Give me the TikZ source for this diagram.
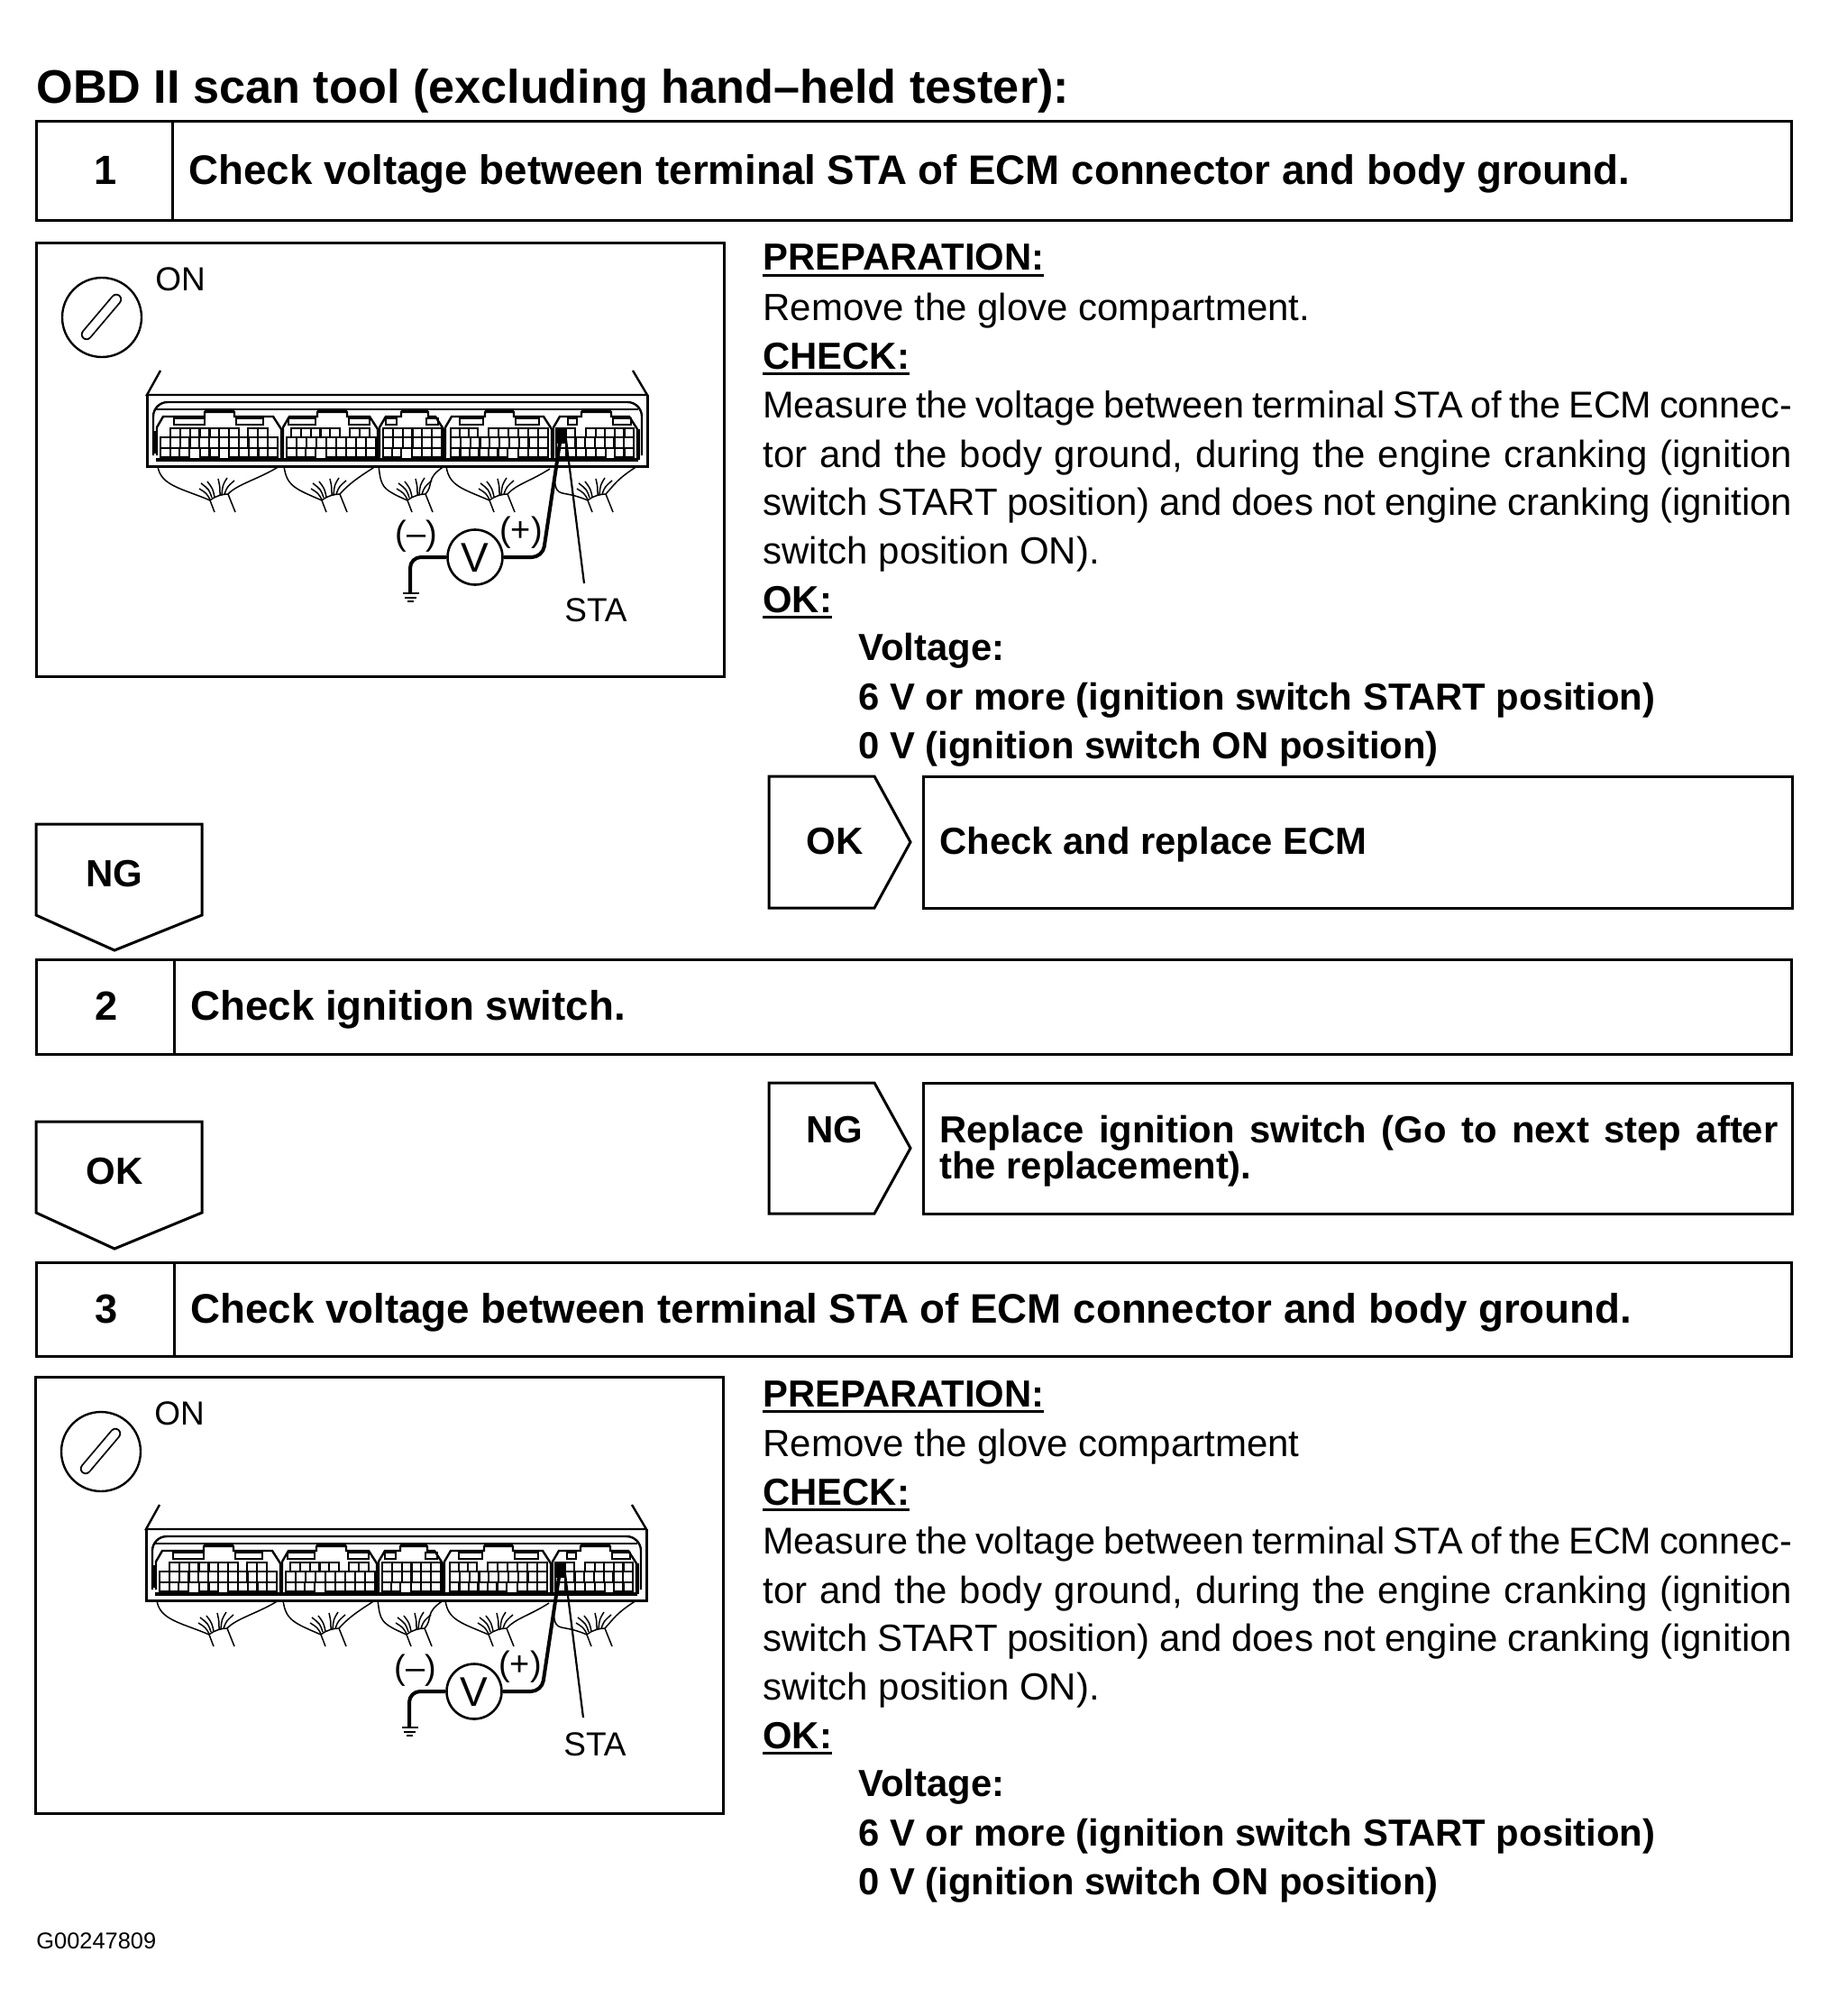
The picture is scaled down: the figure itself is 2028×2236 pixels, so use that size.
\documentclass[tikz,border=0pt]{standalone}
\usepackage{fontspec}
\setmainfont{Liberation Sans}
\newcommand{\fsz}[1]{\fontsize{#1pt}{#1pt}\selectfont}
\newcommand{\ulbar}[1]{{\setbox0\hbox{#1}\rlap{\rule[-3.4pt]{\wd0}{1.4pt}}\box0}}
\tikzset{
  frame/.style={draw=black,line width=1.5pt,fill=none},
  thin line/.style={draw=black,line width=.75pt},
  housing/.style={draw=black,line width=1.2pt},
  wirethick/.style={draw=black,line width=2pt,rounded corners=6pt},
  body/.style={font=\fsz{21},inner sep=0pt,anchor=west,text height=15pt,text depth=0pt},
  strong/.style={font=\fsz{20.9}\bfseries,inner sep=0pt,anchor=west,text height=15pt,text depth=0pt},
  steptitle/.style={font=\fsz{22.85}\bfseries,inner sep=0pt,anchor=west,text height=16pt,text depth=0pt},
  stepnum/.style={font=\fsz{22.6}\bfseries,inner sep=0pt,anchor=center,text height=16pt,text depth=0pt},
  mark label/.style={font=\fsz{21}\bfseries,inner sep=0pt,anchor=center,text height=15pt,text depth=0pt},
  small/.style={font=\fsz{18.5},inner sep=0pt,anchor=center,text height=13.5pt,text depth=0pt},
}
\newcommand{\stepbar}[8]{% name, x0,y0,xdiv,x1,y1, num, title
  \draw[frame] (#2,#3) rectangle (#5,#6);
  \draw[frame] (#4,#3) -- (#4,#6);
  \node[stepnum] (#1num) at ({(#2+#4)/2+2},{(#3+#6)/2-1}) {#7};
  \node[steptitle] (#1title) at (#4+18,{(#3+#6)/2-1}) {#8};
}
\newcommand{\sidemark}[5]{% name, ytop, ybot, label y, label
  \draw[frame] (853,#2) -- (970,#2) -- (1010,{(#2+#3)/2}) -- (970,#3) -- (853,#3) -- cycle;
  \draw[frame] (1024,#2) rectangle (1988,#3);
  \node[mark label] (#1) at (926,#4) {#5};
}
\newcommand{\downmark}[5]{% name, ytop, yside, ytip, label
  \draw[frame] (40,#2) -- (224,#2) -- (224,#3) -- (127,#4) -- (40,#3) -- cycle;
  \node[mark label] (#1) at (127,{(#2+#3)/2+4}) {#5};
}
\newcommand{\proc}[2]{%
  \node[strong] (#1prep) at (846,#2+0) {\ulbar{PREPARATION:}};
  \node[strong] (#1chk) at (846,#2+109) {\ulbar{CHECK:}};
  \node[body] (#1m1) at (846,#2+163) {\fsz{20.7}\makebox[571pt][s]{Measure the voltage between terminal STA of the ECM connec-}};
  \node[body] (#1m2) at (846,#2+218) {\makebox[571pt][s]{tor and the body ground, during the engine cranking (ignition}};
  \node[body] (#1m3) at (846,#2+271) {\makebox[571pt][s]{switch START position) and does not engine cranking (ignition}};
  \node[body] (#1m4) at (846,#2+325) {switch position ON).};
  \node[strong] (#1ok) at (846,#2+379) {\ulbar{OK:}};
  \node[strong] (#1v1) at (952,#2+432) {Voltage:};
  \node[strong] (#1v2) at (952,#2+487) {6 V or more (ignition switch START position)};
  \node[strong] (#1v3) at (952,#2+541) {0 V (ignition switch ON position)};
}
\newcommand{\ecmillus}[1]{%
  % ignition key
  \draw[line width=1.2pt] (113,352) circle (44);
  \draw[line width=6.2pt,line cap=round,black] (96,371) -- (129,332);
  \draw[line width=4.4pt,line cap=round,white] (96,371) -- (129,332);
  \node[small] (#1on) at (200,309) {ON};
  % case
  \draw[housing] (178,411) -- (163,438) -- (718,438) -- (702,411);
  \draw[draw=black,line width=1.5pt] (163,438) -- (163,517) -- (718,517) -- (718,438);
  \draw[housing,rounded corners=8pt] (170,505) -- (170,446) -- (712,446) -- (712,505);
  \draw[housing] (173,454) -- (708,454);
  \draw[draw=black,line width=1.6pt] (173,510) -- (708,510);
  % block outlines
  \foreach \a/\b/\c/\d in {173/227/260/313, 313/352/385/420, 420/445/475/493, 493/538/570/613, 613/645/678/708}{
    \draw[housing] (\a+1,505) -- (\a+1,474) -- (\a+8,462) -- (\b,462) -- (\b,457) -- (\c,457) -- (\c,462) -- (\d-10,462) -- (\d-1,476) -- (\d-1,505);
    \fill[black] (\b,454) rectangle (\c,458);
    \draw[draw=black,line width=2.4pt] (\d,476) -- (\d,510);
  }
  \draw[draw=black,line width=2.4pt] (173,478) -- (173,503);
  % latch windows
  \foreach \a/\b in {193/227, 262/292, 320/350, 387/410, 428/440, 473/486, 510/536, 572/598, 630/640, 680/700}{
    \draw[draw=black,line width=1pt] (\a,464) rectangle (\b,471);
  }
  % terminal cavities
  \foreach \a/\b/\p/\q/\n in {
    189/265/475/485/7, 275/297/475/485/2, 178/308/485/497/12, 178/210/497/507/3, 222/243/497/507/2, 254/308/497/507/5,
    323/377/475/485/5, 388/410/475/485/2, 318/417/485/497/9, 318/350/497/507/3, 362/417/497/507/5,
    425/490/475/485/6, 425/490/485/497/6, 425/445/497/507/2, 457/490/497/507/3,
    500/530/475/485/3, 542/608/475/485/6, 500/608/485/497/10, 500/563/497/507/6, 575/608/497/507/3,
    617/638/475/485/2, 650/703/475/485/5, 617/703/485/497/8, 617/672/497/507/5, 682/703/497/507/2}{
    \draw[draw=black,line width=1.1pt] (\a,\p) rectangle (\b,\q);
    \foreach \k in {1,...,\n}{
      \draw[draw=black,line width=1.1pt] ({\a+(\b-\a)*\k/\n},\p) -- ({\a+(\b-\a)*\k/\n},\q);
    }
  }
  % harness bundles
  \foreach \xl/\yl/\nl/\xr/\yr/\nr in {175/517/233/310/517/253, 315/517/357/417/517/377, 420/517/452/493/517/472, 495/517/543/610/520/563, 615/532/652/707/517/672}{
    \draw[thin line] (\xl,\yl) .. controls (\xl+3,{\yl+22}) and ({\nl-30},{542}) .. (\nl,555);
    \draw[thin line] (\xr,\yr) .. controls ({\xr-22},{\yr+14}) and ({\nr+10},537) .. (\nr,548);
    \draw[thin line] (\nl,555) .. controls ({\nl+6},550) and ({\nr-6},548) .. (\nr,548);
    \draw[thin line] (\nl,555) -- ({\nl+5},568);
    \draw[thin line] (\nr,548) -- ({\nr+8},568);
    \draw[thin line] (\nl,554) .. controls ({\nl-4},547) .. ({\nl-12},542);
    \draw[thin line] ({\nl+2},552) .. controls ({\nl-1},543) .. ({\nl-10},536);
    \draw[thin line] ({\nl+5},551) .. controls ({\nl+3},542) .. ({\nl-3},534);
    \draw[thin line] ({\nl+11},549) .. controls ({\nl+11},540) .. ({\nl+9},531);
    \draw[thin line] ({\nl+13},549) .. controls ({\nl+14},538) .. ({\nl+19},530);
    \draw[thin line] ({\nl+16},548) .. controls ({\nl+19},540) .. ({\nl+27},533);
  }
  % meter
  \node[draw=black,line width=1.3pt,circle,minimum size=30.5pt,inner sep=0pt,font=\fsz{23},text height=16.5pt,text depth=0pt] (#1meter) at (527,618) {V};
  \coordinate (#1gnd) at (455,658);
  \coordinate (#1term) at (623,478);
  \coordinate (#1tip) at (627,480);
  \coordinate (#1lead) at (648,647);
  \draw[wirethick] (#1meter.west) -- (455,618) -- (#1gnd);
  \draw[wirethick] (#1meter.east) -- (602,618) -- (#1term);
  \draw[draw=black,line width=1.1pt] (#1tip) -- (#1lead);
  \draw[draw=black,line width=1.4pt] (447,658) -- (465,658);
  \draw[draw=black,line width=1.1pt] (449,663) -- (462,663);
  \draw[draw=black,line width=1.1pt] (452,667) -- (459,667);
  \fill[black] (618,476) rectangle (628,492);
  \node[small] (#1sta) at (661,676) {STA};
  \node[small,font=\fsz{19},text height=14pt] (#1neg) at (462,590) {(–)};
  \node[small,font=\fsz{19},text height=14pt] (#1pos) at (578,586) {(+)};
}
\begin{document}
\begin{tikzpicture}[x=.5pt,y=-.5pt]
\useasboundingbox (0,0) rectangle (2028,2236);
\fill[white] (0,0) rectangle (2028,2236);
\node[inner sep=0pt,anchor=west,font=\fsz{26.1}\bfseries,text height=18.5pt,text depth=0pt] (title) at (40,96) {OBD II scan tool (excluding hand–held tester):};
% Step 1
\stepbar{sa}{40}{135}{191}{1987}{245}{1}{Check voltage between terminal STA of ECM connector and body ground.}
\draw[frame] (40,270) rectangle (803,750);
\ecmillus{ia}
\proc{pa}{285}
\node[body] (paremove) at (846,341) {Remove the glove compartment.};
\sidemark{okmarka}{861}{1007}{932}{OK}
\node[strong] (okbox) at (1042,932) {Check and replace ECM};
\downmark{ngdown}{914}{1015}{1054}{NG}
% Step 2
\stepbar{sb}{40}{1064}{193}{1987}{1169}{2}{Check ignition switch.}
\sidemark{ngmark}{1201}{1346}{1252}{NG}
\node[strong] (nga) at (1042,1252) {\makebox[465pt][s]{Replace ignition switch (Go to next step after}};
\node[strong] (ngb) at (1042,1292) {the replacement).};
\downmark{okdown}{1244}{1345}{1385}{OK}
% Step 3
\stepbar{sc}{40}{1400}{193}{1987}{1504}{3}{Check voltage between terminal STA of ECM connector and body ground.}
\draw[frame] (39,1527) rectangle (802,2011);
\begin{scope}[shift={(-1,1258)}]
\ecmillus{ib}
\end{scope}
\proc{pb}{1545}
\node[body] (pbremove) at (846,1600) {Remove the glove compartment};
\node[inner sep=0pt,anchor=west,font=\fsz{12.7},text height=9pt,text depth=0pt] (code) at (40,2152) {G00247809};
\end{tikzpicture}
\end{document}
